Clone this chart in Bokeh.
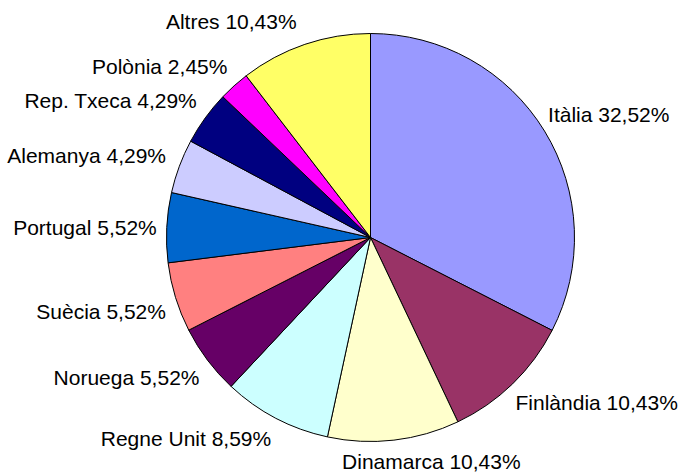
import numpy as np
from bokeh.plotting import figure
from bokeh.models import Range1d, ColumnDataSource
from bokeh.core.properties import value
from bokeh.embed import file_html
from bokeh.resources import INLINE

countries = ["Itàlia", "Finlàndia", "Dinamarca", "Regne Unit", "Noruega", "Suècia",
             "Portugal", "Alemanya", "Rep. Txeca", "Polònia", "Altres"]
shares = [32.52, 10.43, 10.43, 8.59, 5.52, 5.52, 5.52, 4.29, 4.29, 2.45, 10.43]
colors = ["#9999FF", "#993366", "#FFFFCC", "#CCFFFF", "#660066", "#FF8080",
          "#0066CC", "#CCCCFF", "#000080", "#FF00FF", "#FFFF66"]

# layout (data units = pixels of the picture)
W, H = 681, 472
cx, cy_screen, R = 370, 237, 204
cy = H - cy_screen

vals = np.array(shares)
frac = vals / vals.sum()
cum_end = np.cumsum(frac)
cum_start = cum_end - frac
start_ang = np.pi / 2 - 2 * np.pi * cum_start
end_ang = np.pi / 2 - 2 * np.pi * cum_end
mid = (start_ang + end_ang) / 2

src = ColumnDataSource(dict(start=start_ang, end=end_ang, color=colors))

p = figure(width=W, height=H, output_backend="svg", toolbar_location=None,
           x_range=Range1d(0, W), y_range=Range1d(0, H),
           min_border=0, outline_line_color=None)
p.axis.visible = False
p.grid.visible = False

p.wedge(x=cx, y=cy, radius=R, start_angle="start", end_angle="end", direction="clock",
        fill_color="color", line_color="black", line_width=1, source=src)

# labels
d = R + 10
lx = cx + d * np.cos(mid)
ly = cy + d * np.sin(mid)
aligns, bases = [], []
for a in mid:
    c, s = np.cos(a), np.sin(a)
    aligns.append("left" if c > 0 else "right")
    if abs(s) < 0.2:
        bases.append("middle")
    elif s > 0:
        bases.append("bottom")
    else:
        bases.append("top")
nudge_x = np.zeros(len(countries))
nudge_y = np.zeros(len(countries))
i = countries.index("Dinamarca")
nudge_x[i] = -53
nudge_y[i] = 0
i = countries.index("Alemanya")
nudge_x[i] = -4
nudge_y[i] = -4
i = countries.index("Altres")
nudge_x[i] = -5
nudge_y[i] = 2
i = countries.index("Itàlia")
nudge_x[i] = -5
i = countries.index("Finlàndia")
nudge_x[i] = -4
texts = [f"{n} " + f"{v:.2f}".replace(".", ",") + "%" for n, v in zip(countries, shares)]

for t, x, y, al, bl in zip(texts, lx + nudge_x, ly + nudge_y, aligns, bases):
    p.text(x=[x], y=[y], text=[t], text_align=al, text_baseline=bl,
           text_font=value("Liberation Sans"), text_font_size="21px", text_color="black")

open("out.html", "w").write(file_html(p, INLINE))
